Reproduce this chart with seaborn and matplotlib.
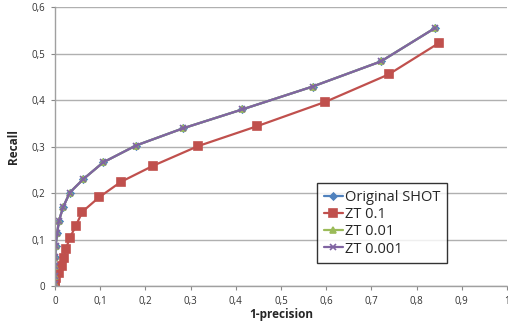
import seaborn as sns
import matplotlib.pyplot as plt
import pandas as pd

# curves (1-precision vs recall)
orig_x = [0.0, 0.0, 0.0, 0.001, 0.0015, 0.005, 0.009, 0.018, 0.033, 0.063, 0.107,
          0.179, 0.283, 0.415, 0.570, 0.721, 0.841]
orig_y = [0.005, 0.022, 0.042, 0.062, 0.085, 0.113, 0.140, 0.169, 0.201, 0.230, 0.266,
          0.302, 0.339, 0.380, 0.429, 0.483, 0.555]

zt1_x = [0.0, 0.001, 0.003, 0.009, 0.015, 0.020, 0.024, 0.033, 0.046, 0.061, 0.098,
         0.146, 0.218, 0.317, 0.448, 0.598, 0.738, 0.850]
zt1_y = [0.002, 0.007, 0.017, 0.029, 0.043, 0.060, 0.079, 0.103, 0.129, 0.160, 0.191,
         0.224, 0.259, 0.301, 0.344, 0.396, 0.455, 0.523]

# ZT 0.01 and ZT 0.001 lie on top of the original curve
zt01_x, zt01_y = list(orig_x), list(orig_y)
zt001_x, zt001_y = list(orig_x), list(orig_y)

labels = ["Original SHOT", "ZT 0.1", "ZT 0.01", "ZT 0.001"]
xticks = [0, 0.1, 0.2, 0.3, 0.4, 0.5, 0.6, 0.7, 0.8, 0.9, 1]
yticks = [0, 0.1, 0.2, 0.3, 0.4, 0.5, 0.6]

sns.set_style("white")
plt.rcParams["font.family"] = ["Open Sans", "DejaVu Sans"]

fig = plt.figure(figsize=(5.08, 3.21), dpi=100)
ax = fig.add_axes([0.108, 0.109, 0.89, 0.869])

series = [
    (orig_x, orig_y, "#4F81BD", "D", 3.5),
    (zt1_x, zt1_y, "#C0504D", "s", 6),
    (zt01_x, zt01_y, "#9BBB59", "^", 5),
    (zt001_x, zt001_y, "#8064A2", "x", 5),
]
for (xs, ys, col, mk, ms), lab in zip(series, labels):
    df = pd.DataFrame({"x": xs, "y": ys})
    sns.lineplot(data=df, x="x", y="y", ax=ax, sort=False, estimator=None,
                 color=col, marker=mk, markersize=ms, linewidth=1.6,
                 markeredgecolor=col, markeredgewidth=1.2, label=lab)

ax.set_xlim(0, 1)
ax.set_ylim(0, 0.6)
ax.set_xticks(xticks)
ax.set_yticks(yticks)
ax.set_xticklabels(["0" if t == 0 else f"{t:g}".replace(".", ",") for t in xticks])
ax.set_yticklabels(["0" if t == 0 else f"{t:g}".replace(".", ",") for t in yticks])
ax.tick_params(axis="both", labelsize=7, color="#888888", length=3, direction="out",
               labelcolor="#333333", bottom=True, left=True, pad=4)

ax.yaxis.grid(True, color="#B0B0B0", linewidth=1)
ax.xaxis.grid(False)
ax.set_axisbelow(True)
for side in ["top", "right"]:
    ax.spines[side].set_visible(False)
for side in ["left", "bottom"]:
    ax.spines[side].set_color("#A0A0A0")
    ax.spines[side].set_linewidth(1)

ax.set_xlabel("1-precision", fontsize=8.5, fontweight="bold", labelpad=1)
ax.set_ylabel("Recall", fontsize=8.5, fontweight="bold", labelpad=8)

leg = ax.legend(loc="lower left", bbox_to_anchor=(0.58, 0.082), fontsize=10.5,
                frameon=True, fancybox=False, edgecolor="black", handlelength=1.35,
                handletextpad=0.1, borderpad=0.45, labelspacing=0.15, borderaxespad=0)
leg.get_frame().set_linewidth(1)

fig.savefig("out.png", dpi=100)
